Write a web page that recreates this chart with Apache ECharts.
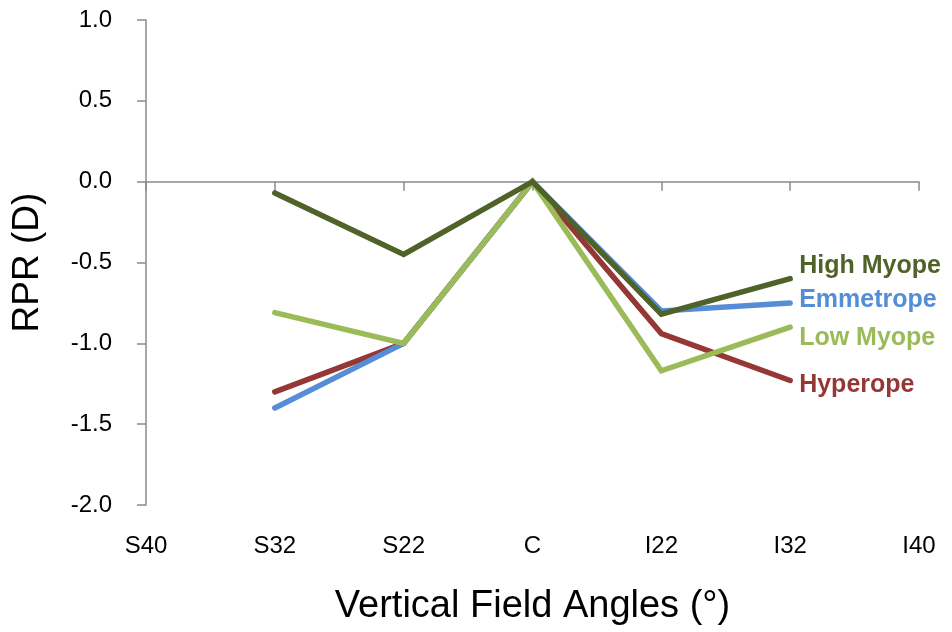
<!DOCTYPE html>
<html>
<head>
<meta charset="utf-8">
<script src="https://cdn.jsdelivr.net/npm/echarts@6/dist/echarts.min.js"></script>
<style>html,body{margin:0;padding:0;background:#fff}#c{width:952px;height:632px}</style>
</head>
<body>
<div id="c"></div>
<script>
const categories = ['S40', 'S32', 'S22', 'C', 'I22', 'I32', 'I40'];
const hyperope  = [null, -1.30, -1.00, 0, -0.94, -1.23, null];
const emmetrope = [null, -1.40, -1.00, 0, -0.80, -0.75, null];
const lowMyope  = [null, -0.81, -1.00, 0, -1.17, -0.90, null];
const highMyope = [null, -0.07, -0.45, 0, -0.82, -0.60, null];
const yTicks = { min: -2.0, max: 1.0, step: 0.5 };

const FONT = '"Liberation Sans", Arial, sans-serif';
const axisGray = '#8a8a8a';

function mk(name, data, color, dy) {
  return {
    name: name, type: 'line', data: data, xAxisIndex: 0,
    showSymbol: false, symbol: 'none', connectNulls: false,
    lineStyle: { color: color, width: 5.5, cap: 'round', join: 'miter' },
    itemStyle: { color: color },
    endLabel: {
      show: true, formatter: '{a}', color: color,
      fontFamily: FONT, fontSize: 25, fontWeight: 'bold',
      distance: 9, offset: [0, dy]
    }
  };
}

const chart = echarts.init(document.getElementById('c'), null, { renderer: 'canvas' });
chart.setOption({
  animation: false,
  backgroundColor: '#fff',
  grid: { left: 146, right: 33, top: 20, bottom: 127, containLabel: false },
  xAxis: [
    {
      type: 'category', data: categories, boundaryGap: false, position: 'bottom',
      axisLine: { onZero: true, lineStyle: { color: axisGray, width: 1.5 } },
      axisTick: { show: true, length: 9, lineStyle: { color: axisGray, width: 1.5 } },
      axisLabel: { show: false }, splitLine: { show: false }
    },
    {
      type: 'category', data: categories, boundaryGap: false, position: 'bottom',
      axisLine: { show: false, onZero: false }, axisTick: { show: false },
      axisLabel: { show: true, margin: 29, color: '#000', fontFamily: FONT, fontSize: 24 },
      splitLine: { show: false },
      name: 'Vertical Field Angles (°)', nameLocation: 'middle', nameGap: 83,
      nameTextStyle: { color: '#000', fontFamily: FONT, fontSize: 38 }
    }
  ],
  yAxis: {
    type: 'value', min: yTicks.min, max: yTicks.max, interval: yTicks.step,
    axisLine: { show: true, onZero: false, lineStyle: { color: axisGray, width: 1.5 } },
    axisTick: { show: true, length: 9, lineStyle: { color: axisGray, width: 1.5 } },
    axisLabel: { margin: 34, color: '#000', fontFamily: FONT, fontSize: 24,
      formatter: v => v.toFixed(1) },
    splitLine: { show: false },
    name: 'RPR (D)', nameLocation: 'middle', nameGap: 100, nameRotate: 90,
    nameTextStyle: { color: '#000', fontFamily: FONT, fontSize: 37 }
  },
  series: [
    mk('Hyperope', hyperope, '#953735', 5),
    mk('Emmetrope', emmetrope, '#558ED5', -3),
    mk('Low Myope', lowMyope, '#9BBB59', 11),
    mk('High Myope', highMyope, '#4F6228', -13)
  ]
});
</script>
</body>
</html>
